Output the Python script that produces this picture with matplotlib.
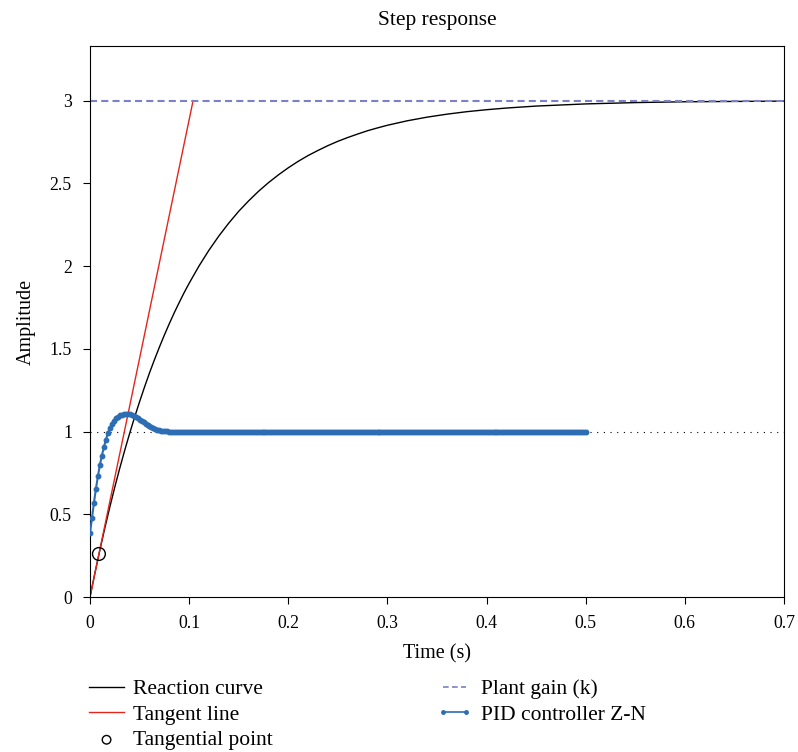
import numpy as np
import matplotlib
matplotlib.use("Agg")
import matplotlib.pyplot as plt

plt.rcParams['font.family'] = ['Liberation Serif', 'DejaVu Serif']
plt.rcParams['font.size'] = 12.8

# Reaction curve
t_react = [0, 0.005, 0.01, 0.015, 0.02, 0.025, 0.03, 0.035, 0.04, 0.045, 0.05, 0.055,
           0.06, 0.065, 0.07, 0.075, 0.08, 0.085, 0.09, 0.095, 0.10,
           0.11, 0.12, 0.13, 0.14, 0.15, 0.16, 0.17, 0.18, 0.19, 0.20,
           0.21, 0.22, 0.23, 0.24, 0.25, 0.26, 0.27, 0.28, 0.29, 0.30,
           0.32, 0.34, 0.36, 0.38, 0.40, 0.42, 0.45, 0.50, 0.55, 0.60, 0.65, 0.70]
y_react = [0, 0.146, 0.285, 0.418, 0.544, 0.664, 0.778, 0.886, 0.989, 1.087, 1.180, 1.269,
           1.354, 1.434, 1.510, 1.583, 1.652, 1.718, 1.780, 1.840, 1.896,
           2.001, 2.096, 2.182, 2.260, 2.331, 2.394, 2.452, 2.504, 2.551, 2.594,
           2.633, 2.668, 2.699, 2.728, 2.754, 2.777, 2.798, 2.818, 2.835, 2.851,
           2.878, 2.900, 2.918, 2.933, 2.945, 2.955, 2.967, 2.980, 2.988, 2.993, 2.995, 2.997]

# Tangent line and tangential point
t_tan = [0, 0.104]
y_tan = [0, 3.0]
t_point = [0.009]
y_point = [0.26]

# Plant gain and setpoint
k_gain = 3.0
setpoint = 1.0
t_range = [0, 0.7]

# PID controller Z-N response, sampled every 0.002 s
t_pid = np.round(np.arange(0, 0.5001, 0.002), 3)
pid_start = [0.385, 0.48, 0.57, 0.655, 0.73, 0.80, 0.855, 0.905, 0.95, 0.99,
             1.02, 1.045, 1.065, 1.08, 1.09, 1.097, 1.102, 1.105, 1.106, 1.106,
             1.104, 1.10, 1.094, 1.088, 1.08, 1.072, 1.063, 1.055, 1.047, 1.039,
             1.032, 1.026, 1.02, 1.015, 1.011, 1.008, 1.005, 1.003, 1.002, 1.001, 1.0]
y_pid = pid_start + [1.0] * (len(t_pid) - len(pid_start))

fig = plt.figure(figsize=(7.98, 7.52), dpi=100)
ax = fig.add_axes([90/798, 1 - 597/752, 694/798, 551/752])

ax.plot(t_range, [setpoint, setpoint], color='black', lw=0.8, dashes=(1, 5), zorder=1)
l_react, = ax.plot(t_react, y_react, color='black', lw=1.0, label='Reaction curve')
l_tan, = ax.plot(t_tan, y_tan, color='#e3261d', lw=1.0, label='Tangent line')
l_gain, = ax.plot(t_range, [k_gain, k_gain], color='#7c80c6', lw=1.5, dashes=(3.4, 2),
                  label='Plant gain (k)')
l_pid, = ax.plot(t_pid, y_pid, color='#2c6db3', lw=1.5, marker='o', markersize=3.2,
                 label='PID controller Z-N', zorder=3)
s_pt = ax.scatter(t_point, y_point, s=85, facecolors='none', edgecolors='black',
                  linewidths=1.0, label='Tangential point', zorder=4)

ax.set_xlim(0, 0.7)
ax.set_ylim(0, 3.33)
ax.set_xticks([0, 0.1, 0.2, 0.3, 0.4, 0.5, 0.6, 0.7])
ax.set_xticklabels(['0', '0.1', '0.2', '0.3', '0.4', '0.5', '0.6', '0.7'])
ax.set_yticks([0, 0.5, 1, 1.5, 2, 2.5, 3])
ax.set_yticklabels(['0', '0.5', '1', '1.5', '2', '2.5', '3'])
ax.tick_params(direction='out', length=5, width=0.8, pad=8)
ax.set_xlabel('Time (s)', fontsize=14.5, labelpad=9)
ax.set_ylabel('Amplitude', fontsize=14.5, labelpad=10)
ax.set_title('Step response', pad=15)

leg_kw = dict(loc='upper left', frameon=False, fontsize=15.5, handlelength=1.63,
              handletextpad=0.42, borderpad=0, borderaxespad=0, labelspacing=0.26)
leg1 = fig.legend(handles=[l_react, l_tan, s_pt], bbox_to_anchor=(89/798, 1 - 679/752),
                  scatterpoints=1, **leg_kw)
leg2 = fig.legend(handles=[l_gain, l_pid], bbox_to_anchor=(437/798, 1 - 679/752),
                  numpoints=2, **leg_kw)
leg1.legend_handles[2].set_sizes([38])
for h in leg2.legend_handles:
    h.set_markersize(2.5)
    h.set_linewidth(1.2)

fig.savefig('out.png', dpi=100)
